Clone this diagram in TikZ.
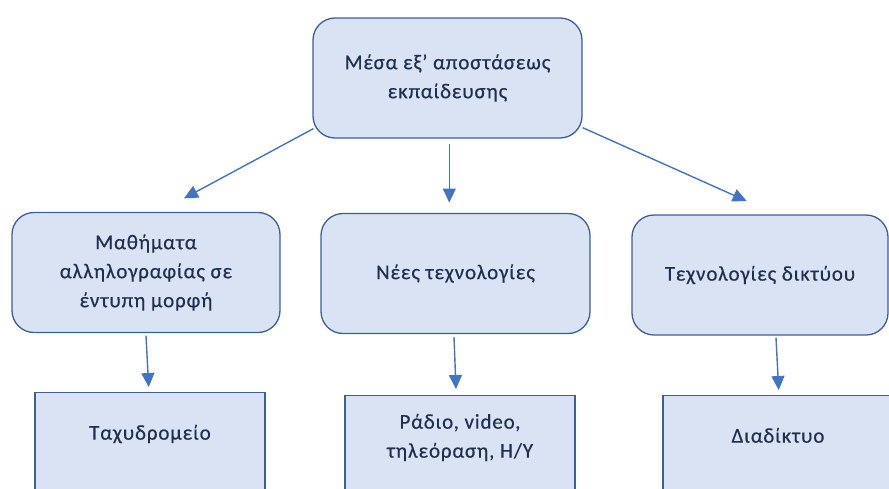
\documentclass[tikz,border=0pt]{standalone}
\usepackage{fontspec}
\setmainfont[LetterSpace=4, FakeBold=0.4]{Carlito}
\usetikzlibrary{arrows.meta}
\definecolor{boxfill}{HTML}{DAE3F3}
\definecolor{boxline}{HTML}{3F5E96}
\definecolor{arrowblue}{HTML}{4472C4}
\definecolor{textnavy}{HTML}{1F2F4F}
\begin{document}
\begin{tikzpicture}[x=1pt, y=1pt,
      every node/.style={font=\fontsize{21}{29}\selectfont, text=textnavy},
      box/.style={rectangle, draw=boxline, fill=boxfill, line width=1.3pt, rounded corners=22pt, align=center, inner sep=0pt},
      root/.style={box, minimum width=269pt, minimum height=120pt},
      branch/.style={box, minimum width=268pt, minimum height=120pt},
      leaf/.style={box, rounded corners=0pt, anchor=north, minimum width=230pt, text depth=80pt},
      arrow/.style={draw=arrowblue, line width=1.4pt, -{Triangle[length=14pt, width=13pt]}}
  ]
    \useasboundingbox (0,0) rectangle (889,-488);
    \clip (0,0) rectangle (889,-488);

    \node[root] (media) at (447.5,-78) {Μέσα εξ’ αποστάσεως\\εκπαίδευσης};

    \node[branch] (print) at (146,-272.5) {Μαθήματα\\αλληλογραφίας σε\\έντυπη μορφή};
    \node[branch, minimum width=269pt] (newtech) at (455.5,-273.5) {Νέες τεχνολογίες};
    \node[branch, minimum width=256pt] (nettech) at (760,-275) {Τεχνολογίες δικτύου};

    \node[leaf, text height=47pt] (post) at (150,-392) {Ταχυδρομείο};
    \node[leaf, text height=62pt] (media2) at (460,-395) {Ράδιο, video,\\τηλεόραση, Η/Υ};
    \node[leaf, text height=47pt] (web) at (778,-395) {Διαδίκτυο};

    \draw[arrow] ([shift={(1,10)}]media.south west) -- ([shift={(38,13.5)}]print.north);
    \draw[arrow] ([shift={(1.8,-5.7)}]media.south) -- ([shift={(-6.2,10.3)}]newtech.north);
    \draw[arrow] ([shift={(0,11)}]media.south east) -- ([shift={(-13.3,13.3)}]nettech.north);

    \draw[arrow] ([shift={(0,-2.5)}]print.south) -- ([shift={(-1.3,5)}]post.north);
    \draw[arrow] ([shift={(-1.5,-3)}]newtech.south) -- ([shift={(-4,6)}]media2.north);
    \draw[arrow] ([shift={(16,-2)}]nettech.south) -- ([shift={(0.7,5)}]web.north);
  \end{tikzpicture}
\end{document}
